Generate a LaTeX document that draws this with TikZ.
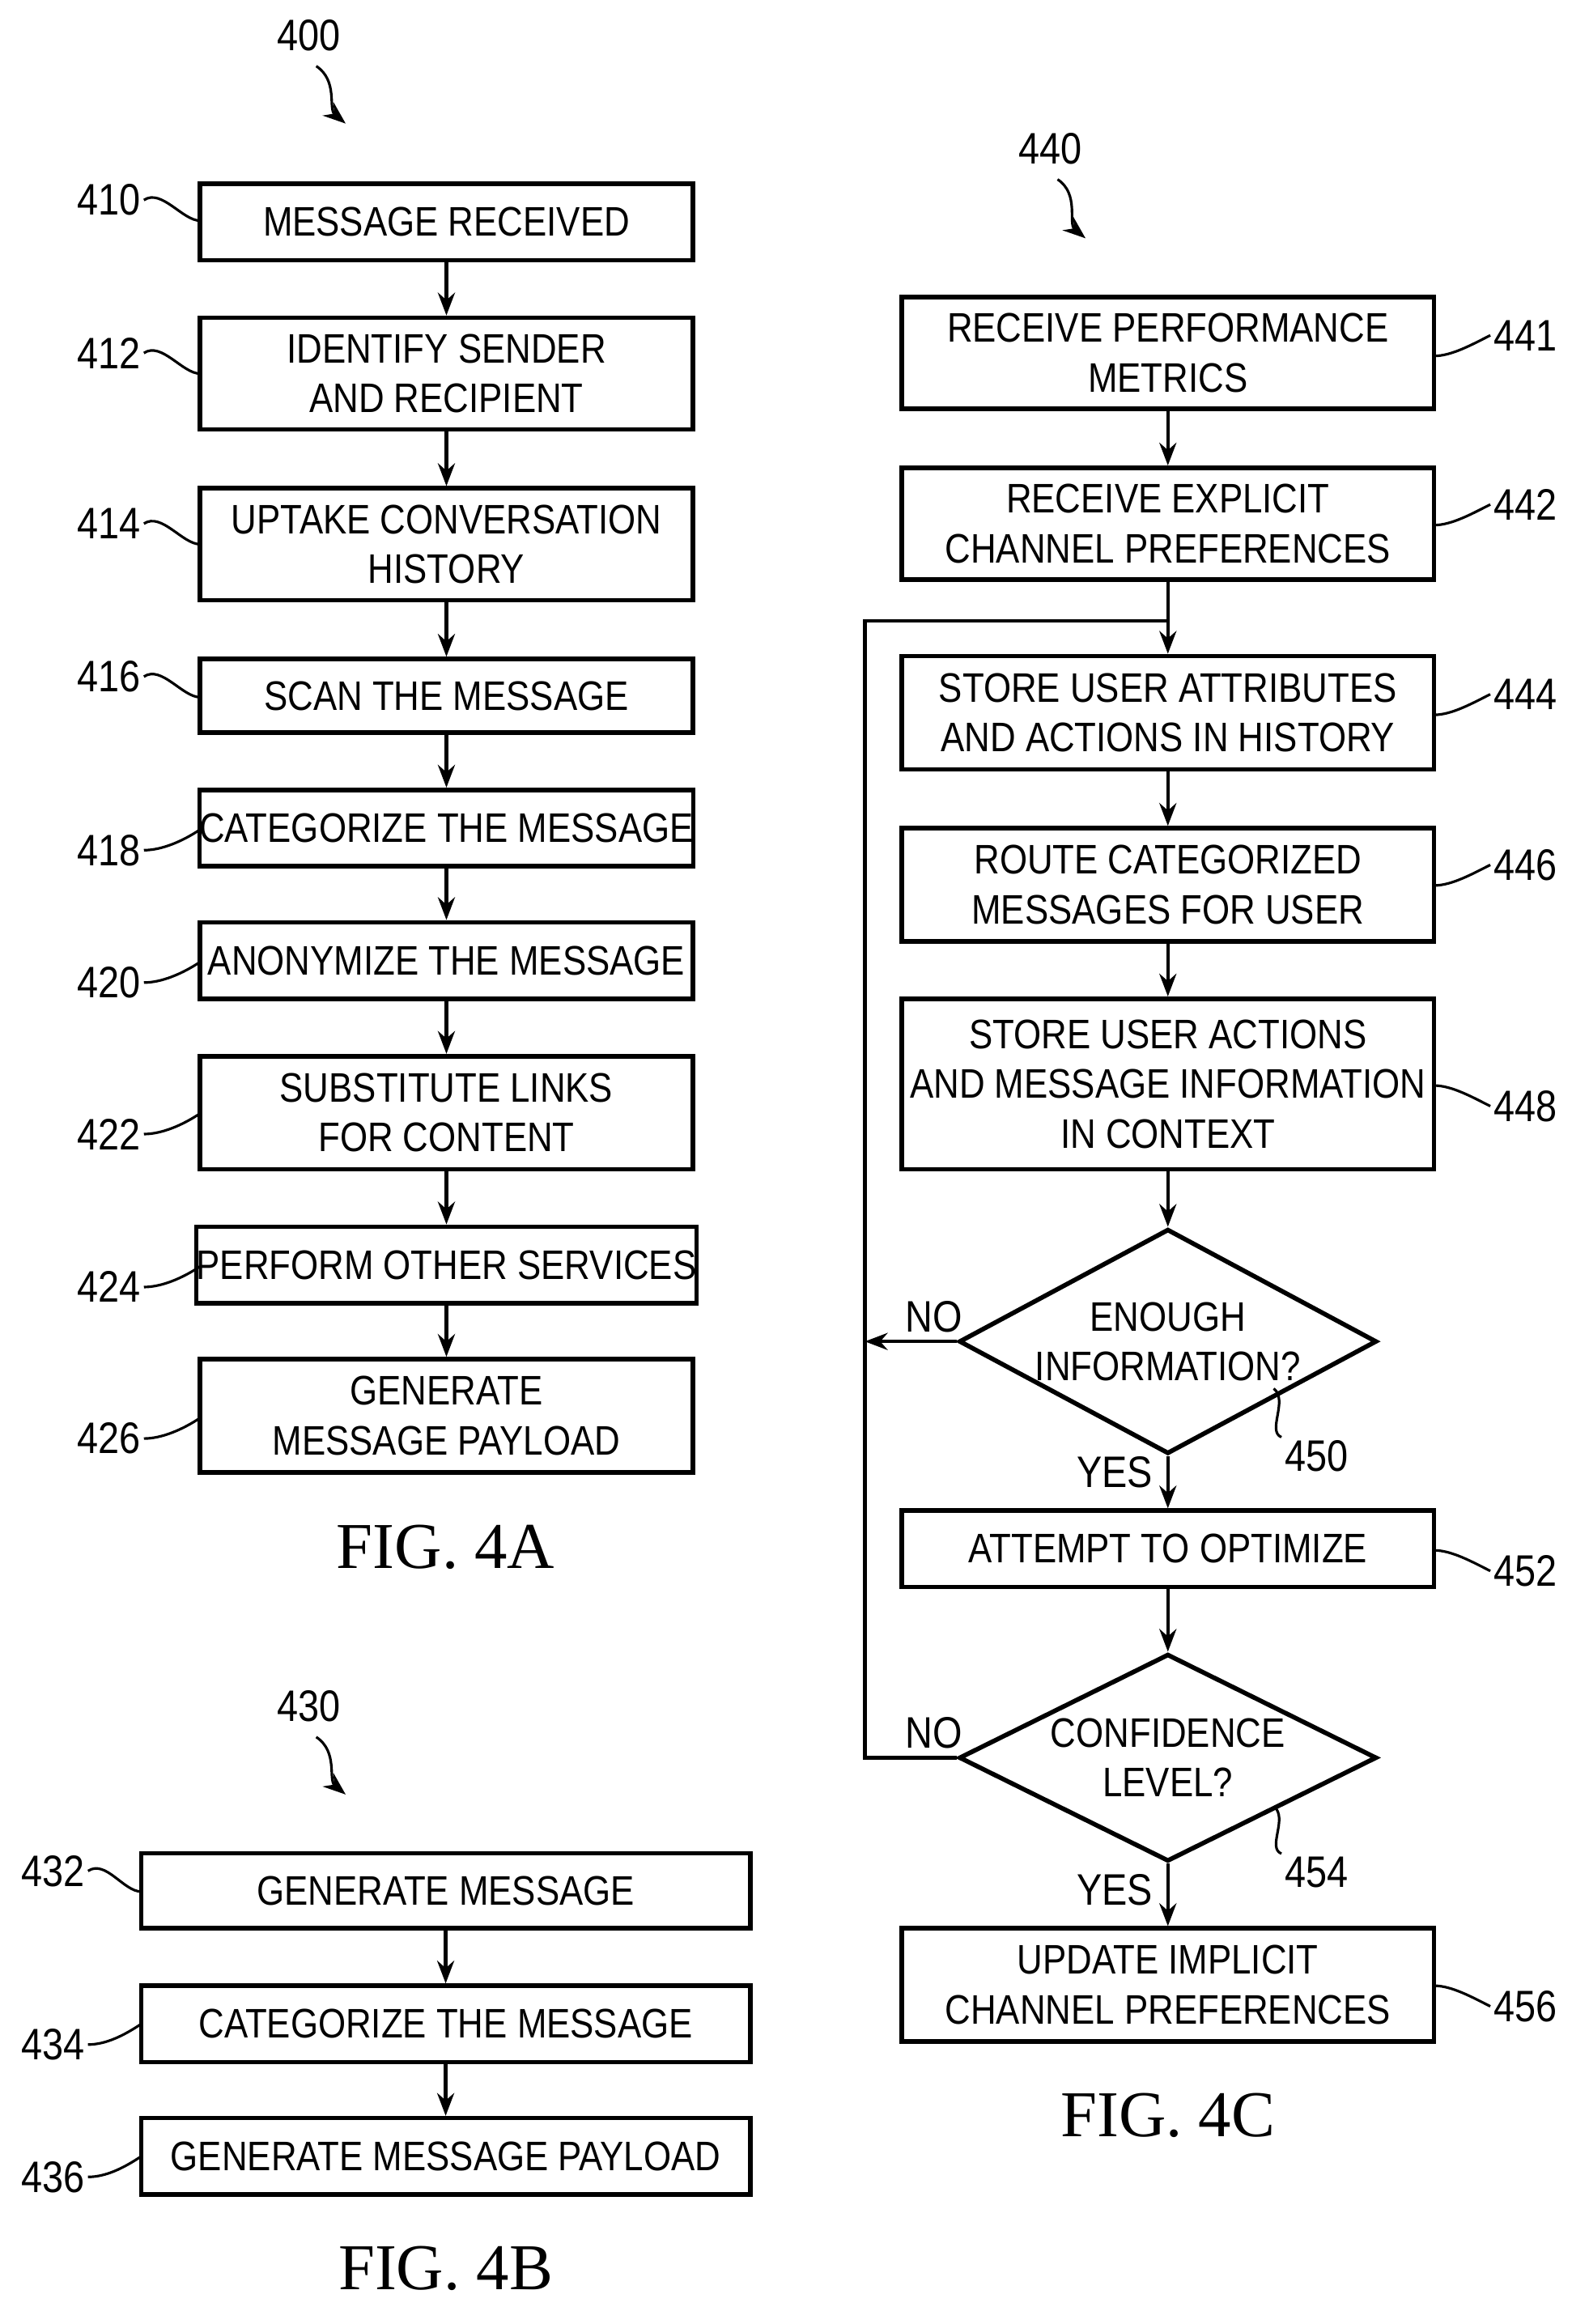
\documentclass[tikz,border=0pt]{standalone}
\usepackage{fontspec}
\setmainfont{Liberation Sans}
\newfontfamily\boxfont[FakeStretch=0.86]{Liberation Sans}
\newfontfamily\figfont{Liberation Serif}
\usetikzlibrary{arrows.meta,shapes.geometric}
\begin{document}
\begin{tikzpicture}[x=0.018167cm,y=-0.018167cm,
  box/.style={draw,line width=1.6pt,inner sep=0pt,align=center,font=\boxfont\fontsize{14.5}{17.5}\selectfont},
  dia/.style={draw,line width=1.6pt,diamond,aspect=1.82,minimum width={284*0.018167cm},inner sep=0pt,align=center,font=\boxfont\fontsize{14.5}{17.5}\selectfont},
  lbl/.style={font=\boxfont\fontsize{15.5}{18}\selectfont,inner sep=1pt},
  fig/.style={font=\figfont\fontsize{23}{26}\selectfont},
  arr/.style={line width=1.2pt,-{Stealth[length=8pt,width=6pt]}},
  lead/.style={line width=0.9pt}]
\useasboundingbox (0,0) rectangle (1080,1580);
\newcommand\bx[6]{\node[box,minimum width={(#3-#2)*0.018167cm},minimum height={(#5-#4)*0.018167cm}] (#1) at ({(#2+#3)/2},{(#4+#5)/2}) {#6};}
% FIG 4A
\bx{a410}{136}{471}{125}{177}{MESSAGE RECEIVED}
\bx{a412}{136}{471}{216}{292}{IDENTIFY SENDER\\AND RECIPIENT}
\bx{a414}{136}{471}{332}{408}{UPTAKE CONVERSATION\\HISTORY}
\bx{a416}{136}{471}{448}{498}{SCAN THE MESSAGE}
\bx{a418}{136}{471}{537}{589}{CATEGORIZE THE MESSAGE}
\bx{a420}{136}{471}{627}{679}{ANONYMIZE THE MESSAGE}
\bx{a422}{136}{471}{718}{795}{SUBSTITUTE LINKS\\FOR CONTENT}
\bx{a424}{136}{471}{834}{886}{PERFORM OTHER SERVICES}
\bx{a426}{136}{471}{924}{1001}{GENERATE\\MESSAGE PAYLOAD}
\foreach \p/\q in {a410/a412,a412/a414,a414/a416,a416/a418,a418/a420,a420/a422,a422/a424,a424/a426}
  \draw[arr] (\p) -- (\q);
\foreach \n/\y/\t in {l410/136/410,l412/240/412,l414/356/414,l416/460/416}{
  \node[lbl] (\n) at (74,\y) {\t};
  \draw[lead] (\n.east) .. controls +(12,-8) and +(-12,0) .. (136,\y+14);}
\foreach \n/\y/\t in {l418/578/418,l420/668/420,l422/771/422,l424/875/424,l426/978/426}{
  \node[lbl] (\n) at (74,\y) {\t};
  \draw[lead] (\n.east) .. controls +(12,0) and +(-12,8) .. (136,\y-14);}
\node[fig] (f4a) at (303,1052) {FIG. 4A};
\node[lbl] (l400) at (210,24) {400};
\coordinate (t400) at (235,84);
\draw[arr,line width=0.9pt] (l400.south)++(5,8) .. controls +(15,10) and +(-12,-10) .. (t400);
% FIG 4B
\bx{b432}{96}{510}{1260}{1311}{GENERATE MESSAGE}
\bx{b434}{96}{510}{1350}{1402}{CATEGORIZE THE MESSAGE}
\bx{b436}{96}{510}{1440}{1492}{GENERATE MESSAGE PAYLOAD}
\draw[arr] (b432) -- (b434);
\draw[arr] (b434) -- (b436);
\foreach \n/\y/\t in {l432/1272/432}{
  \node[lbl] (\n) at (36,\y) {\t};
  \draw[lead] (\n.east) .. controls +(12,-8) and +(-12,0) .. (96,\y+14);}
\foreach \n/\y/\t in {l434/1390/434,l436/1480/436}{
  \node[lbl] (\n) at (36,\y) {\t};
  \draw[lead] (\n.east) .. controls +(12,0) and +(-12,8) .. (96,\y-14);}
\node[fig] (f4b) at (303,1542) {FIG. 4B};
\node[lbl] (l430) at (210,1160) {430};
\coordinate (t430) at (235,1220);
\draw[arr,line width=0.9pt] (l430.south)++(5,8) .. controls +(15,10) and +(-12,-10) .. (t430);
% FIG 4C
\bx{c441}{613}{975}{202}{278}{RECEIVE PERFORMANCE\\METRICS}
\bx{c442}{613}{975}{318}{394}{RECEIVE EXPLICIT\\CHANNEL PREFERENCES}
\bx{c444}{613}{975}{446}{523}{STORE USER ATTRIBUTES\\AND ACTIONS IN HISTORY}
\bx{c446}{613}{975}{563}{640}{ROUTE CATEGORIZED\\MESSAGES FOR USER}
\bx{c448}{613}{975}{679}{795}{STORE USER ACTIONS\\AND MESSAGE INFORMATION\\IN CONTEXT}
\node[dia] (d450) at (794,912) {ENOUGH\\INFORMATION?};
\bx{c452}{613}{975}{1027}{1079}{ATTEMPT TO OPTIMIZE}
\node[dia] (d454) at (794,1195) {CONFIDENCE\\LEVEL?};
\bx{c456}{613}{975}{1311}{1388}{UPDATE IMPLICIT\\CHANNEL PREFERENCES}
\draw[arr] (c441) -- (c442);
\draw[arr] (c442) -- (c444);
\draw[arr] (c444) -- (c446);
\draw[arr] (c446) -- (c448);
\draw[arr] (c448) -- (d450);
\draw[arr] (d450) -- (c452);
\draw[arr] (c452) -- (d454);
\draw[arr] (d454) -- (c456);
\coordinate (lp) at (588,912);
\draw[arr] (d450.west) -- (lp);
\draw[line width=1.2pt] (d454.west) -| (588,422) -| (794,434);
\node[lbl] at (635,895) {NO};
\node[lbl] at (635,1178) {NO};
\node[lbl] at (758,1001) {YES};
\node[lbl] at (758,1285) {YES};
\foreach \n/\y/\t/\b in {l441/228/441/c441,l442/343/442/c442,l444/472/444/c444,l446/588/446/c446}{
  \node[lbl] (\n) at (1037,\y) {\t};
  \draw[lead] (975,\y+14) .. controls +(12,0) and +(-12,6) .. (\n.west);}
\foreach \n/\y/\t in {l448/752/448,l452/1068/452,l456/1364/456}{
  \node[lbl] (\n) at (1037,\y) {\t};
  \draw[lead] (975,\y-14) .. controls +(12,0) and +(-12,-6) .. (\n.west);}
\node[lbl] (l450) at (895,990) {450};
\draw[lead] (866,944) .. controls +(10,8) and +(-10,-4) .. (l450.north west);
\node[lbl] (l454) at (895,1273) {454};
\draw[lead] (866,1228) .. controls +(10,8) and +(-10,-4) .. (l454.north west);
\node[lbl] (l440) at (714,101) {440};
\coordinate (t440) at (738,162);
\draw[arr,line width=0.9pt] (l440.south)++(5,8) .. controls +(15,10) and +(-12,-10) .. (t440);
\node[fig] (f4c) at (794,1438) {FIG. 4C};
\end{tikzpicture}
\end{document}
